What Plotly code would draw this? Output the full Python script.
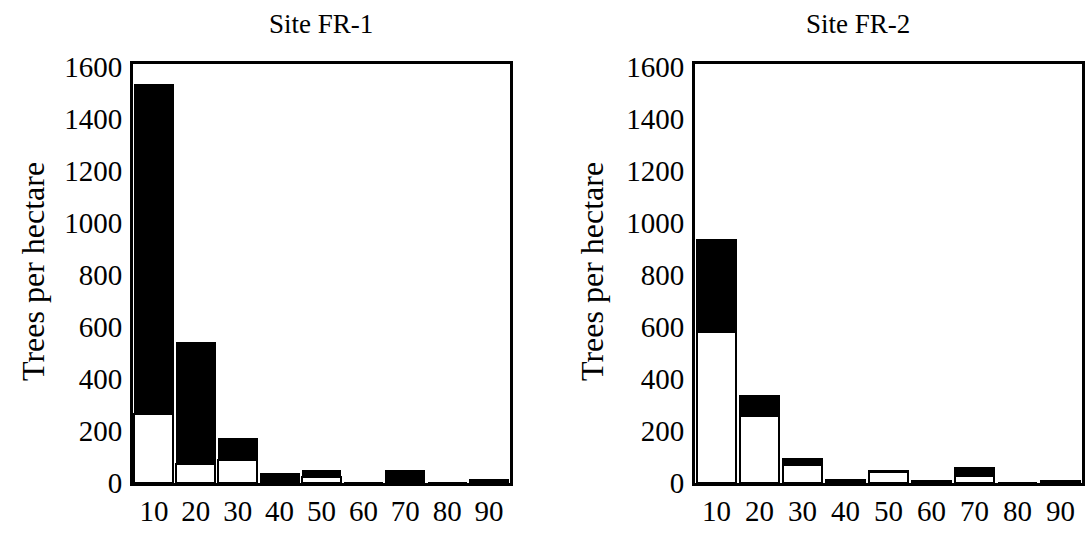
import plotly.graph_objects as go

classes = ["10", "20", "30", "40", "50", "60", "70", "80", "90"]

# Site FR-1 (white = lower part, black = upper part of each stacked bar)
fr1_white = [265, 75, 90, 0, 22, 0, 0, 0, 0]
fr1_black = [1270, 465, 80, 38, 28, 0, 50, 0, 15]

# Site FR-2
fr2_white = [580, 258, 70, 0, 42, 0, 28, 0, 0]
fr2_black = [355, 77, 25, 15, 5, 10, 30, 0, 10]

y_ticks = [0, 200, 400, 600, 800, 1000, 1200, 1400, 1600]
titles = ["Site FR-1", "Site FR-2"]
y_title = "Trees per hectare"

W, H = 1091, 533
FONT = "Liberation Serif"

fig = go.Figure()

for i, (white, black) in enumerate([(fr1_white, fr1_black), (fr2_white, fr2_black)]):
    xa = "x" if i == 0 else "x2"
    ya = "y" if i == 0 else "y2"
    fig.add_trace(go.Bar(
        x=classes, y=white, xaxis=xa, yaxis=ya,
        marker=dict(color="white", line=dict(color="black", width=2)),
        showlegend=False, hoverinfo="skip",
    ))
    fig.add_trace(go.Bar(
        x=classes, y=black, xaxis=xa, yaxis=ya,
        marker=dict(color="black", line=dict(color="black", width=1)),
        showlegend=False, hoverinfo="skip",
    ))

x_dom = [[133 / W, 510 / W], [695 / W, 1082 / W]]
y_dom = [1 - 483 / H, 1 - 64 / H]

axis_common = dict(
    showgrid=False, zeroline=False, showline=True, linecolor="black",
    linewidth=3, mirror=True, ticks="", automargin=False,
    tickfont=dict(family=FONT, size=29, color="black"),
)

fig.update_layout(
    width=W, height=H,
    margin=dict(l=0, r=0, t=0, b=0),
    paper_bgcolor="white", plot_bgcolor="white",
    barmode="stack", bargap=0.07,
    font=dict(family=FONT, color="black"),
    xaxis=dict(domain=x_dom[0], anchor="y", type="category",
               range=[-0.5, 8.5], **axis_common),
    yaxis=dict(domain=y_dom, anchor="x", range=[0, 1612],
               tickvals=y_ticks, ticklabelstandoff=2, **axis_common),
    xaxis2=dict(domain=x_dom[1], anchor="y2", type="category",
                range=[-0.5, 8.5], **axis_common),
    yaxis2=dict(domain=y_dom, anchor="x2", range=[0, 1612],
                tickvals=y_ticks, ticklabelstandoff=2, **axis_common),
)

# Panel titles
for xc, t in zip([321 / W, 858 / W], titles):
    fig.add_annotation(x=xc, y=1 - 24 / H, xref="paper", yref="paper",
                       text=t, showarrow=False,
                       font=dict(family=FONT, size=27, color="black"),
                       xanchor="center", yanchor="middle")

# Y axis titles
for xc in [33 / W, 592 / W]:
    fig.add_annotation(x=xc, y=1 - 272 / H, xref="paper", yref="paper",
                       text=y_title, showarrow=False, textangle=-90,
                       font=dict(family=FONT, size=32, color="black"),
                       xanchor="center", yanchor="middle")

fig.write_html("out.html")
